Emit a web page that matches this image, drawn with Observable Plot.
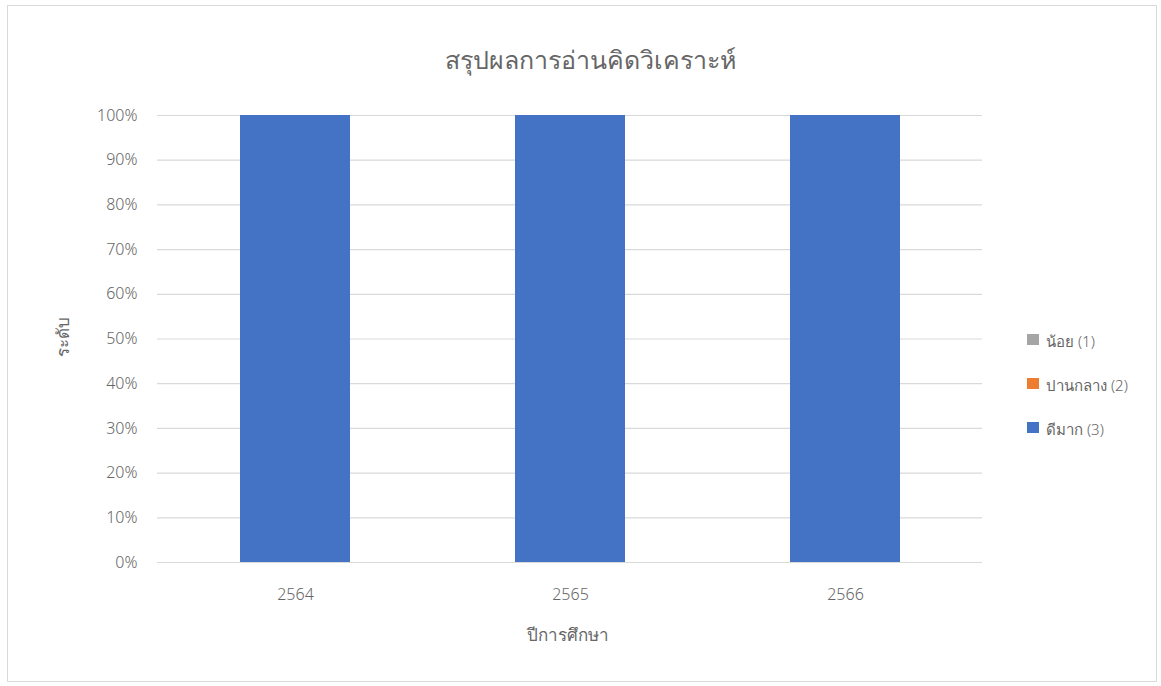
<!DOCTYPE html>
<html>
<head>
<meta charset="utf-8">
<script src="https://cdn.jsdelivr.net/npm/d3@7"></script>
<script src="https://cdn.jsdelivr.net/npm/@observablehq/plot@0.6"></script>
<style>
  html, body { margin: 0; padding: 0; background: #fff; }
  #wrap { position: relative; width: 1161px; height: 686px; overflow: hidden; font-family: "Noto Sans", "Open Sans", sans-serif; color: #666; }
  #frame { position: absolute; left: 7px; top: 5px; width: 1150px; height: 677px; border: 1px solid #d9d9d9; box-sizing: border-box; }
  #chart { position: absolute; left: 0; top: 0; }
  .title { position: absolute; left: 8px; width: 1165px; top: 40px; text-align: center; font-size: 25px; font-weight: 300; color: #666; }
  .xlab { position: absolute; left: 468px; width: 200px; top: 621px; text-align: center; font-size: 17px; font-weight: 300; }
  .ylab { position: absolute; left: 62px; top: 337px; transform: translate(-50%, -50%) rotate(-90deg); font-size: 17px; font-weight: 300; white-space: nowrap; }
  .legend { position: absolute; left: 1027px; top: 330px; font-size: 15px; font-weight: 300; }
  .legend .item { height: 44px; display: flex; align-items: flex-start; }
  .legend .sw { width: 12px; height: 11px; margin-top: 4px; margin-right: 7px; }
</style>
</head>
<body>
<div id="wrap">
  <div id="frame"></div>
  <div id="chart"></div>
  <div class="title">สรุปผลการอ่านคิดวิเคราะห์</div>
  <div class="ylab">ระดับ</div>
  <div class="xlab">ปีการศึกษา</div>
  <div class="legend" id="legend"></div>
</div>
<script>
const years = ["2564", "2565", "2566"];
const levels = ["น้อย (1)", "ปานกลาง (2)", "ดีมาก (3)"];
const colors = ["#a5a5a5", "#ed7d31", "#4472c4"];
const low = [0, 0, 0];
const mid = [0, 0, 0];
const high = [1, 1, 1];
const yTicks = [0, 0.1, 0.2, 0.3, 0.4, 0.5, 0.6, 0.7, 0.8, 0.9, 1];

const series = [low, mid, high];
const table = [];
years.forEach((yr, i) => {
  levels.forEach((lv, j) => table.push({year: yr, level: lv, value: series[j][i]}));
});

const W = 1161, H = 686;
const chart = Plot.plot({
  width: W,
  height: H,
  marginLeft: 157,
  marginRight: W - 982,
  marginTop: 115,
  marginBottom: H - 562,
  style: {fontFamily: "'Noto Sans', 'Open Sans', sans-serif", fontSize: "16px", color: "#666", background: "transparent", fontWeight: 300},
  x: {domain: years, paddingInner: 0.6, paddingOuter: 0.3, label: null},
  y: {domain: [0, 1], label: null},
  color: {domain: levels, range: colors},
  marks: [
    Plot.gridY(yTicks, {stroke: "#d9d9d9", strokeOpacity: 1, strokeWidth: 1.2}),
    Plot.barY(table, Plot.stackY({x: "year", y: "value", fill: "level", order: levels})),
    Plot.axisY(yTicks, {tickSize: 0, tickPadding: 20, tickFormat: d3.format(".0%"), label: null, fontSize: 16}),
    Plot.axisX({tickSize: 0, tickPadding: 26, label: null, fontSize: 16})
  ]
});
document.getElementById("chart").appendChild(chart);

const lg = document.getElementById("legend");
levels.forEach((lv, j) => {
  const it = document.createElement("div");
  it.className = "item";
  const sw = document.createElement("div");
  sw.className = "sw";
  sw.style.background = colors[j];
  const tx = document.createElement("span");
  tx.textContent = lv;
  it.appendChild(sw); it.appendChild(tx);
  lg.appendChild(it);
});
</script>
</body>
</html>
